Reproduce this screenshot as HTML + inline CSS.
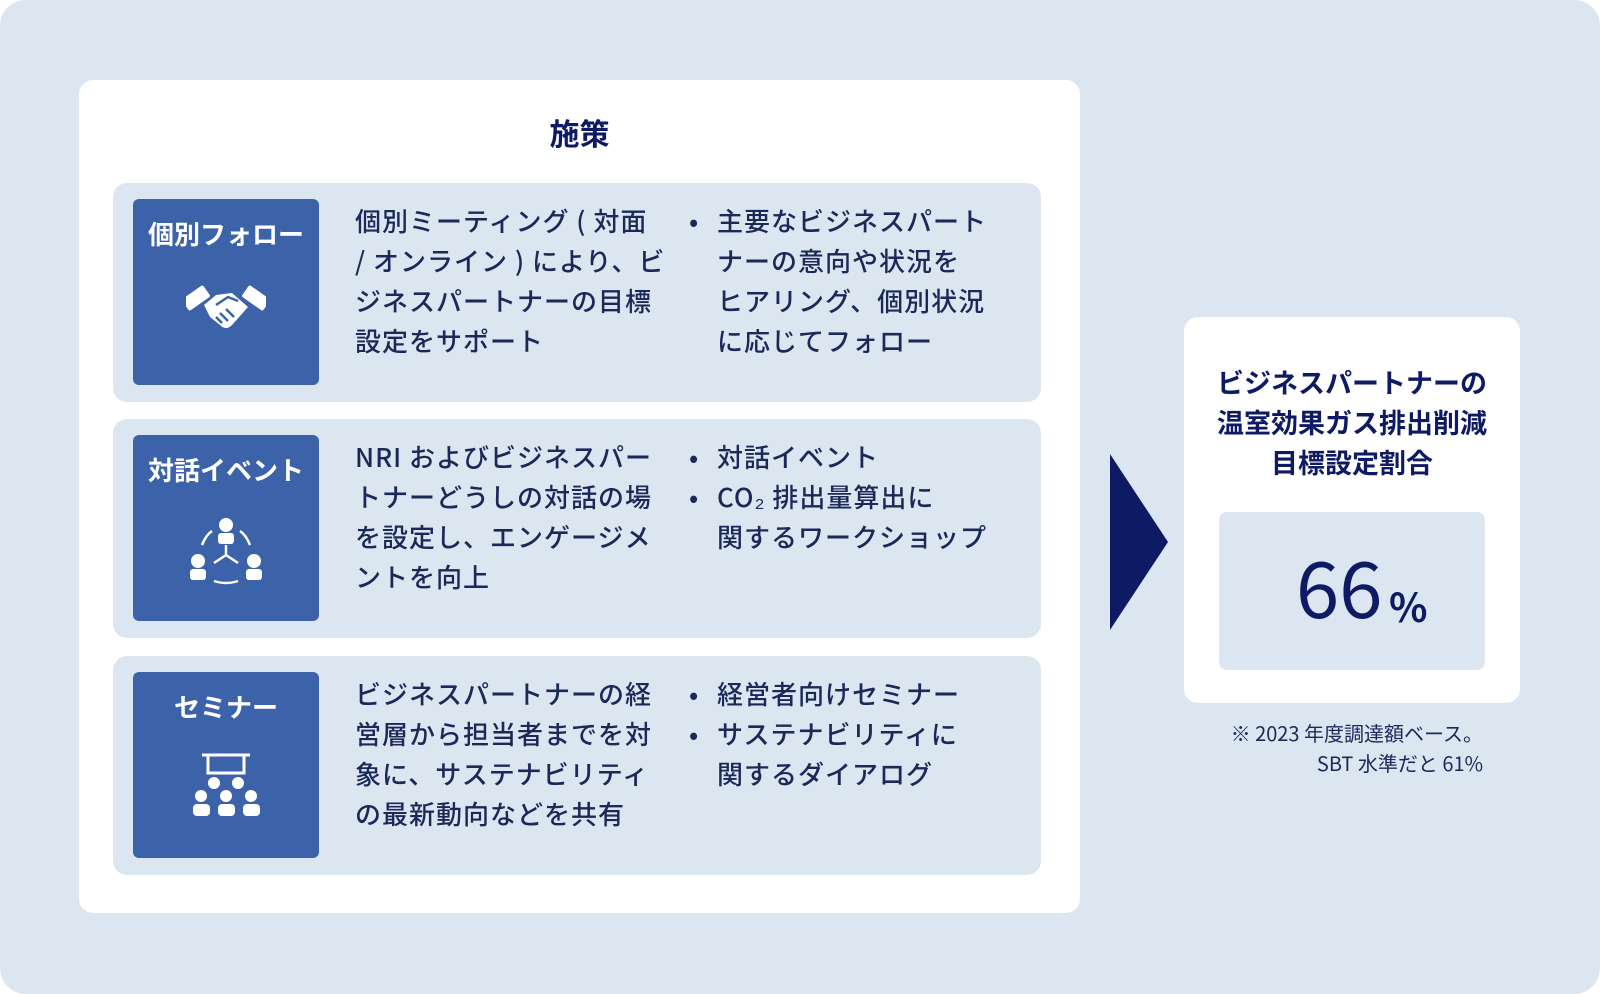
<!DOCTYPE html>
<html><head><meta charset="utf-8"><style>
*{margin:0;padding:0;box-sizing:border-box}
body{width:1600px;height:994px;background:#fff;font-family:"Noto Sans CJK JP","Liberation Sans",sans-serif;position:relative;overflow:hidden}
.bg{position:absolute;left:0;top:0;width:1600px;height:994px;background:#dce6f1;border-radius:26px}
.card{position:absolute;left:79px;top:80px;width:1001px;height:833px;background:#fff;border-radius:14px}
.title{position:absolute;left:79px;width:1001px;top:110px;text-align:center;font-size:30px;font-weight:bold;color:#0e1a63;line-height:44px}
.row{position:absolute;left:113px;width:928px;height:219px;background:#dce6f1;border-radius:14px}
.ib{position:absolute;left:20px;top:16px;width:186px;height:186px;background:#3c63a9;border-radius:6px}
.ib .l{position:absolute;top:15px;width:100%;text-align:center;color:#fff;font-weight:bold;font-size:26px;line-height:40px}
.ib svg{position:absolute;left:53px;top:80px}
.t1{position:absolute;left:242px;top:18px;font-size:26px;line-height:40px;color:#1b2858;width:330px;font-weight:500;white-space:nowrap;letter-spacing:1px}
.t2{position:absolute;left:572px;top:18px;font-size:26px;line-height:40px;color:#1b2858;width:340px;list-style:none;font-weight:500;white-space:nowrap;letter-spacing:1px}
.t2 li{padding-left:32px;position:relative}
.t2 li:before{content:"•";position:absolute;left:4px}
.rc{position:absolute;left:1184px;top:317px;width:336px;height:386px;background:#fff;border-radius:14px}
.rt{position:absolute;left:1184px;width:336px;top:362px;text-align:center;font-size:27px;line-height:40px;font-weight:bold;color:#0e1a63}
.ibx{position:absolute;left:1219px;top:512px;width:266px;height:158px;background:#dce6f1;border-radius:8px}
.num{position:absolute;left:1296px;top:535px;font-size:78px;color:#0e1a63;line-height:100px}
.pct{position:absolute;left:1389px;top:580px;font-size:40px;font-weight:bold;color:#0e1a63;line-height:50px}
.note{position:absolute;right:117px;top:718px;text-align:right;font-size:20px;line-height:30px;color:#1b2858}
</style></head><body>
<div class="bg"></div>
<div class="card"></div>
<div class="title">施策</div>

<div class="row" style="top:183px">
 <div class="ib"><div class="l">個別フォロー</div>
  <svg width="80" height="60" viewBox="0 0 80 60"><g fill="#fff"><rect x="3" y="6" width="14" height="26" rx="2" transform="rotate(55 10 19)"/><rect x="63" y="6" width="14" height="26" rx="2" transform="rotate(-55 70 19)"/><path d="M18 26 L30 16 L46 14 L62 28 L46 46 Q40 52 34 46 L24 38 Z"/></g><g stroke="#3c63a9" stroke-width="2.5" fill="none"><path d="M30 26 L42 18 L52 22"/><path d="M36 44 L30 38 M42 42 L34 34 M48 38 L40 30"/></g></svg></div>
 <div class="t1">個別ミーティング ( 対面<br>/ オンライン ) により、ビ<br>ジネスパートナーの目標<br>設定をサポート</div>
 <ul class="t2"><li>主要なビジネスパート<br>ナーの意向や状況を<br>ヒアリング、個別状況<br>に応じてフォロー</li></ul>
</div>

<div class="row" style="top:419px">
 <div class="ib"><div class="l">対話イベント</div>
  <svg width="80" height="70" viewBox="0 0 80 70"><g fill="#fff"><circle cx="40" cy="10" r="7"/><rect x="32" y="18" width="16" height="11" rx="3"/><circle cx="12" cy="46" r="7"/><rect x="4" y="54" width="16" height="11" rx="3"/><circle cx="68" cy="46" r="7"/><rect x="60" y="54" width="16" height="11" rx="3"/></g><g stroke="#fff" stroke-width="2.5" fill="none"><path d="M40 30 V40 L28 48 M40 40 L52 48"/><path d="M16 30 Q20 20 26 16"/><path d="M64 30 Q60 20 54 16"/><path d="M28 66 Q40 70 52 66"/></g></svg></div>
 <div class="t1">NRI およびビジネスパー<br>トナーどうしの対話の場<br>を設定し、エンゲージメ<br>ントを向上</div>
 <ul class="t2"><li>対話イベント</li><li>CO₂ 排出量算出に<br>関するワークショップ</li></ul>
</div>

<div class="row" style="top:656px">
 <div class="ib"><div class="l">セミナー</div>
  <svg width="80" height="70" viewBox="0 0 80 70"><g fill="none" stroke="#fff" stroke-width="3"><path d="M16 3 H64"/><rect x="22" y="3" width="36" height="18"/></g><g fill="#fff"><circle cx="28" cy="31" r="6"/><circle cx="52" cy="31" r="6"/><circle cx="15" cy="44" r="6"/><circle cx="40" cy="44" r="6"/><circle cx="65" cy="44" r="6"/><rect x="7" y="52" width="17" height="12" rx="4"/><rect x="32" y="52" width="17" height="12" rx="4"/><rect x="57" y="52" width="17" height="12" rx="4"/></g></svg></div>
 <div class="t1">ビジネスパートナーの経<br>営層から担当者までを対<br>象に、サステナビリティ<br>の最新動向などを共有</div>
 <ul class="t2"><li>経営者向けセミナー</li><li>サステナビリティに<br>関するダイアログ</li></ul>
</div>

<svg style="position:absolute;left:1110px;top:454px" width="60" height="178"><polygon points="0,0 58,88 0,176" fill="#0e1a63"/></svg>
<div class="rc"></div>
<div class="rt">ビジネスパートナーの<br>温室効果ガス排出削減<br>目標設定割合</div>
<div class="ibx"></div>
<div class="num">66</div>
<div class="pct">%</div>
<div class="note">※ 2023 年度調達額ベース。<br>SBT 水準だと 61%</div>
</body></html>
